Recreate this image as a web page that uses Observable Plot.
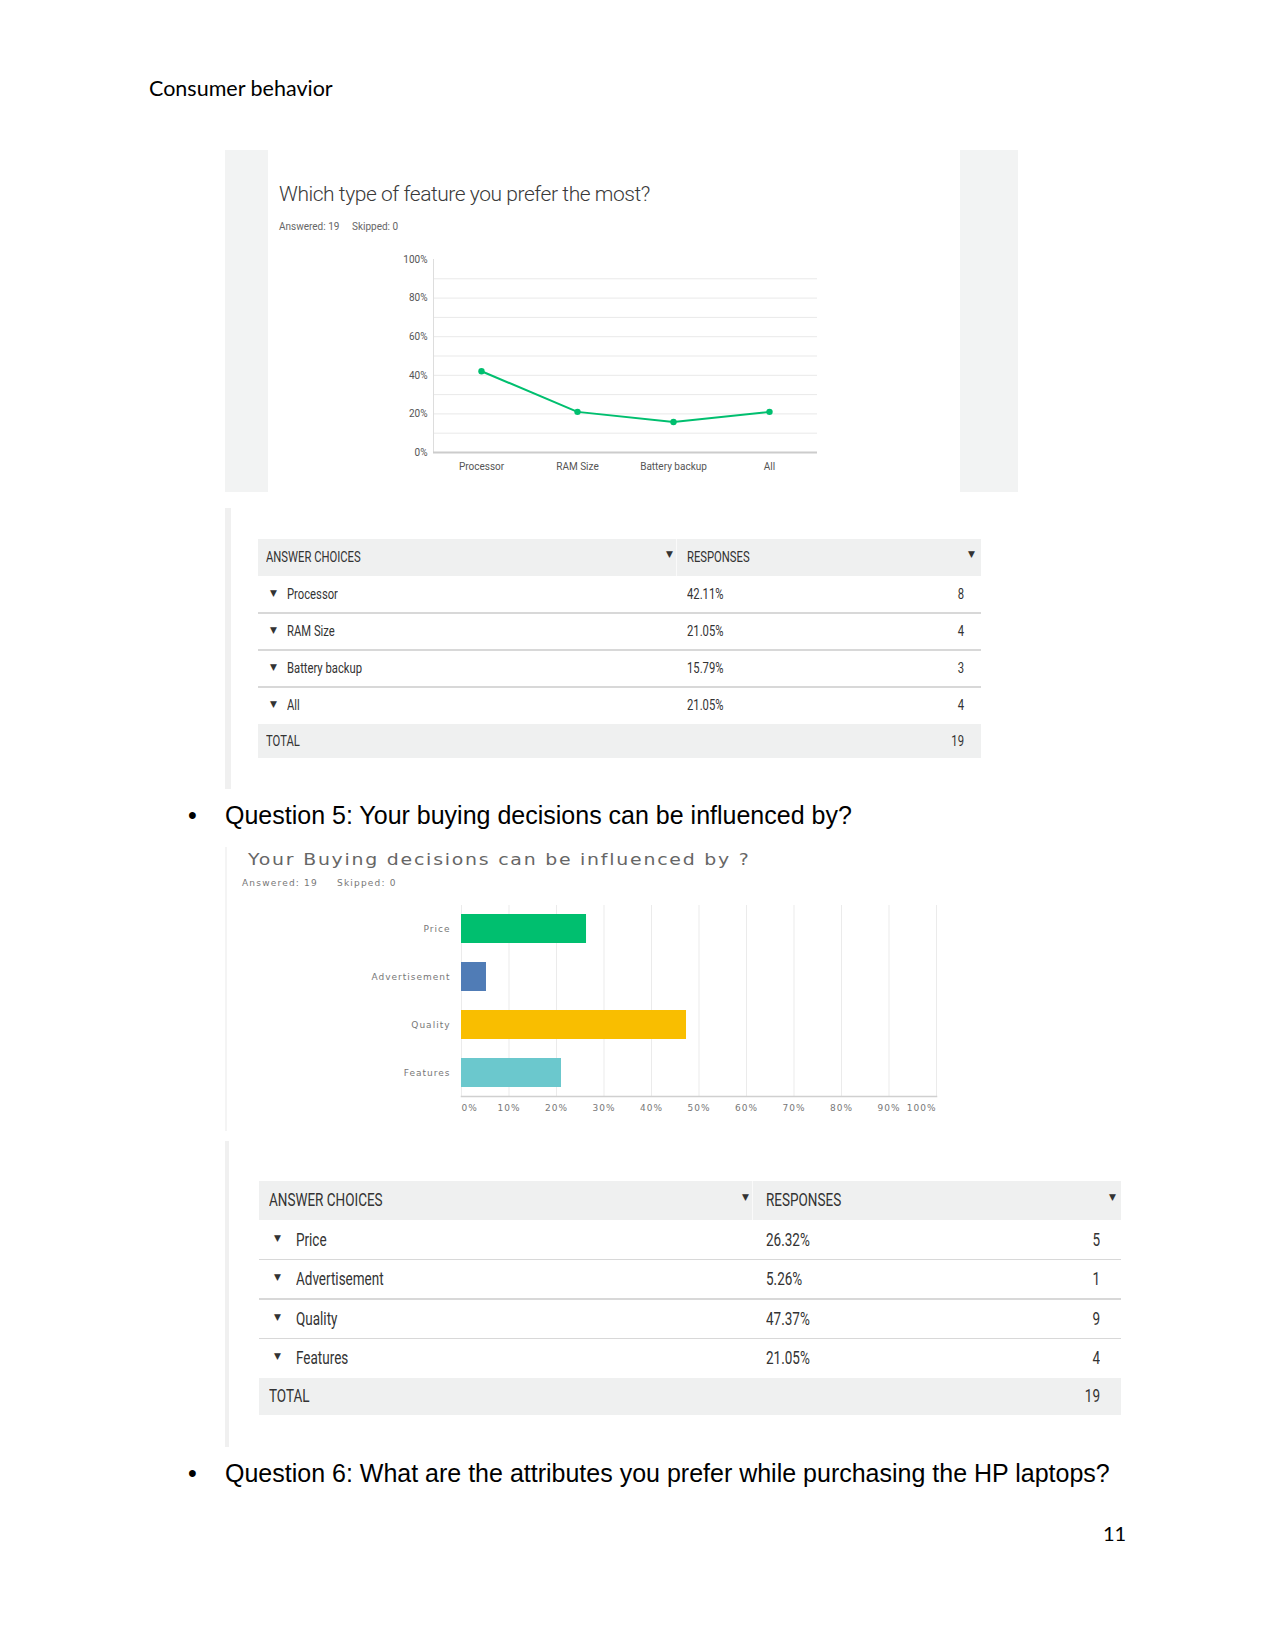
<!DOCTYPE html>
<html><head><meta charset="utf-8">
<script src="https://cdn.jsdelivr.net/npm/d3@7"></script>
<script src="https://cdn.jsdelivr.net/npm/@observablehq/plot@0.6"></script>
<style>
body{margin:0;background:#fff;}
#page{position:relative;width:1275px;height:1650px;overflow:hidden;background:#fff;font-family:"Liberation Sans",Arial,sans-serif;}
.abs{position:absolute;white-space:nowrap;}
.nar{font-family:Roboto,sans-serif;transform:scaleX(0.75);transform-origin:left center;}
.narR{font-family:Roboto,sans-serif;transform:scaleX(0.75);transform-origin:right center;text-align:right;}
.tri{position:absolute;font-family:"DejaVu Sans",sans-serif;font-size:9px;color:#333;}
</style></head>
<body><div id="page"></div>
<script>
// ---------- data ----------
const q4Title = "Which type of feature you prefer the most?";
const q4Choices = ["Processor", "RAM Size", "Battery backup", "All"];
const q4Percent = [42.11, 21.05, 15.79, 21.05];
const q4Counts = [8, 4, 3, 4];
const q4YTicks = [0, 20, 40, 60, 80, 100];
const q4Grid = [10, 20, 30, 40, 50, 60, 70, 80, 90];

const q5Title = "Your Buying decisions can be influenced by ?";
const q5Choices = ["Price", "Advertisement", "Quality", "Features"];
const q5Percent = [26.32, 5.26, 47.37, 21.05];
const q5Counts = [5, 1, 9, 4];
const q5XTicks = [0, 10, 20, 30, 40, 50, 60, 70, 80, 90, 100];
const totalAnswered = 19;
const totalSkipped = 0;
const q5Palette = ["#00bf6f", "#507cb6", "#f9be00", "#6bc8cd"];
const green = "#00bf6f";

const page = document.getElementById("page");
function el(tag, css, text, cls) {
  const e = document.createElement(tag);
  e.className = "abs" + (cls ? " " + cls : "");
  e.style.cssText += css;
  if (text != null) e.textContent = text;
  page.appendChild(e);
  return e;
}

// ---------- page header ----------
el("div", "left:149px;top:75px;font-family:Lato,'Open Sans',sans-serif;font-size:21.5px;color:#000;", "Consumer behavior");

// ---------- panel 1 ----------
el("div", "left:225px;top:150px;width:43px;height:342px;background:#f2f3f3;");
el("div", "left:960px;top:150px;width:58px;height:342px;background:#f2f3f3;");
el("div", "left:279px;top:180px;font-family:Roboto,sans-serif;font-weight:300;font-size:21px;letter-spacing:-0.45px;line-height:28px;color:#3a3a3a;", q4Title);
el("div", "left:279px;top:221px;font-family:Roboto,sans-serif;font-size:10px;color:#666;", "Answered: " + totalAnswered);
el("div", "left:352px;top:221px;font-family:Roboto,sans-serif;font-size:10px;color:#666;", "Skipped: " + totalSkipped);

const rows4 = q4Choices.map((c, i) => ({choice: c, pct: q4Percent[i]}));
const c1 = Plot.plot({
  width: 460, height: 230,
  marginLeft: 53, marginRight: 23, marginTop: 14, marginBottom: 23,
  style: {fontFamily: "Roboto, sans-serif", fontSize: "10px", color: "#555", background: "transparent", overflow: "visible"},
  x: {type: "point", domain: q4Choices, padding: 0.5, label: null},
  y: {domain: [0, 100], label: null},
  marks: [
    Plot.gridY(q4Grid, {stroke: "#e9e9e9", strokeOpacity: 1}),
    Plot.frame({anchor: "left", stroke: "#dddddd"}),
    Plot.ruleY([0], {stroke: "#cccccc", strokeWidth: 2}),
    Plot.axisY(q4YTicks, {tickSize: 0, tickPadding: 6, tickFormat: d => d + "%"}),
    Plot.axisX({tickSize: 0, tickPadding: 10}),
    Plot.line(rows4, {x: "choice", y: "pct", stroke: green, strokeWidth: 2}),
    Plot.dot(rows4, {x: "choice", y: "pct", r: 3.2, fill: green})
  ]
});
c1.style.position = "absolute"; c1.style.left = "380px"; c1.style.top = "245px";
page.appendChild(c1);

// ---------- tables ----------
function makeTable(cfg, choices, pcts, counts) {
  const fs = cfg.font;
  const off = fs * 0.62;
  el("div", `left:225px;top:${cfg.stripTop}px;width:${cfg.stripW}px;height:${cfg.stripH}px;background:#f0f0f0;`);
  el("div", `left:${cfg.left}px;top:${cfg.top}px;width:${cfg.width}px;height:${cfg.headH}px;background:#eff0f0;`);
  el("div", `left:${cfg.left + cfg.div}px;top:${cfg.top}px;width:1px;height:${cfg.headH}px;background:#fafafa;`);
  const hc = cfg.top + cfg.headH / 2;
  el("div", `left:${cfg.left + cfg.a}px;top:${hc - off}px;font-size:${fs}px;color:#333;`, "ANSWER CHOICES", "nar");
  el("div", `left:${cfg.left + cfg.resp}px;top:${hc - off}px;font-size:${fs}px;color:#333;`, "RESPONSES", "nar");
  el("div", `left:${cfg.left + cfg.hTri}px;top:${hc - 9}px;`, "▼", "tri");
  el("div", `left:${cfg.left + cfg.width - cfg.hTri2}px;top:${hc - 9}px;`, "▼", "tri");
  let y = cfg.top + cfg.headH;
  choices.forEach((c, i) => {
    const h = cfg.rowH;
    const cy = y + h / 2;
    el("div", `left:${cfg.left + cfg.tri}px;top:${cy - 7}px;`, "▼", "tri");
    el("div", `left:${cfg.left + cfg.label}px;top:${cy - off}px;font-size:${fs}px;color:#333;`, c, "nar");
    el("div", `left:${cfg.left + cfg.resp}px;top:${cy - off}px;font-size:${fs}px;color:#333;`, pcts[i].toFixed(2) + "%", "nar");
    el("div", `left:${cfg.left}px;width:${cfg.width - cfg.cnt}px;top:${cy - off}px;font-size:${fs}px;color:#333;`, String(counts[i]), "narR");
    if (i < choices.length - 1)
      el("div", `left:${cfg.left}px;top:${y + h - 1}px;width:${cfg.width}px;height:1.5px;background:#d8d8d8;`);
    y += h;
  });
  el("div", `left:${cfg.left}px;top:${y}px;width:${cfg.width}px;height:${cfg.totH}px;background:#eff0f0;`);
  const tc = y + cfg.totH / 2;
  el("div", `left:${cfg.left + cfg.a}px;top:${tc - off}px;font-size:${fs}px;color:#333;`, "TOTAL", "nar");
  el("div", `left:${cfg.left}px;width:${cfg.width - cfg.cnt}px;top:${tc - off}px;font-size:${fs}px;color:#333;`, String(d3.sum(counts)), "narR");
}

makeTable({stripTop: 508, stripW: 6, stripH: 281, left: 258, width: 723, top: 539, headH: 37, rowH: 37, totH: 34,
  font: 15, a: 8, tri: 12, label: 29, hTri: 408, div: 418, resp: 429, cnt: 17, hTri2: 13}, q4Choices, q4Percent, q4Counts);

// ---------- question 5 ----------
el("div", "left:188px;top:801px;font-size:25px;color:#000;", "•");
el("div", "left:225px;top:801px;font-size:25px;color:#000;", "Question 5: Your buying decisions can be influenced by?");

el("div", "left:225px;top:847px;width:2px;height:284px;background:#f4f4f4;");
el("div", "left:248px;top:850px;font-family:'DejaVu Sans',sans-serif;font-size:16px;letter-spacing:1.5px;color:#666;transform:scaleX(1.18);transform-origin:left center;", q5Title);
el("div", "left:242px;top:878px;font-family:'DejaVu Sans',sans-serif;font-size:9px;letter-spacing:1.2px;color:#777;", "Answered: " + totalAnswered);
el("div", "left:337px;top:878px;font-family:'DejaVu Sans',sans-serif;font-size:9px;letter-spacing:1.2px;color:#777;", "Skipped: " + totalSkipped);

const rows5 = q5Choices.map((c, i) => ({choice: c, pct: q5Percent[i]}));
const midTicks = q5XTicks.slice(1, -1);
const fmtPct = d => d + "%";
const c2 = Plot.plot({
  width: 720, height: 225,
  marginLeft: 221, marginRight: 24, marginTop: 10, marginBottom: 24,
  style: {fontFamily: "'DejaVu Sans', sans-serif", fontSize: "9px", color: "#777", background: "transparent", overflow: "visible", letterSpacing: "1px"},
  x: {domain: [0, 100], label: null},
  y: {domain: q5Choices, paddingInner: 0.4, paddingOuter: 0.16, label: null},
  color: {domain: q5Choices, range: q5Palette},
  marks: [
    Plot.gridX(q5XTicks, {stroke: "#ebebeb", strokeOpacity: 1}),
    Plot.frame({anchor: "bottom", stroke: "#d0d0d0", strokeWidth: 1.5}),
    Plot.barX(rows5, {x: "pct", y: "choice", fill: "choice"}),
    Plot.axisX([q5XTicks[0]], {tickSize: 0, tickPadding: 8, textAnchor: "start", tickFormat: fmtPct}),
    Plot.axisX(midTicks, {tickSize: 0, tickPadding: 8, tickFormat: fmtPct}),
    Plot.axisX([q5XTicks[q5XTicks.length - 1]], {tickSize: 0, tickPadding: 8, textAnchor: "end", tickFormat: fmtPct}),
    Plot.axisY({tickSize: 0, tickPadding: 11})
  ]
});
c2.style.position = "absolute"; c2.style.left = "240px"; c2.style.top = "895px";
page.appendChild(c2);

makeTable({stripTop: 1141, stripW: 4, stripH: 306, left: 259, width: 862, top: 1181, headH: 39, rowH: 39.5, totH: 37,
  font: 18, a: 10, tri: 15, label: 37, hTri: 483, div: 493, resp: 507, cnt: 21, hTri2: 12}, q5Choices, q5Percent, q5Counts);

// ---------- question 6 & page number ----------
el("div", "left:188px;top:1459px;font-size:25px;color:#000;", "•");
el("div", "left:225px;top:1459px;font-size:25px;color:#000;", "Question 6: What are the attributes you prefer while purchasing the HP laptops?");
el("div", "left:1103px;top:1521px;font-family:Lato,'Open Sans',sans-serif;font-size:20px;color:#000;", "11");
</script>
</body></html>
